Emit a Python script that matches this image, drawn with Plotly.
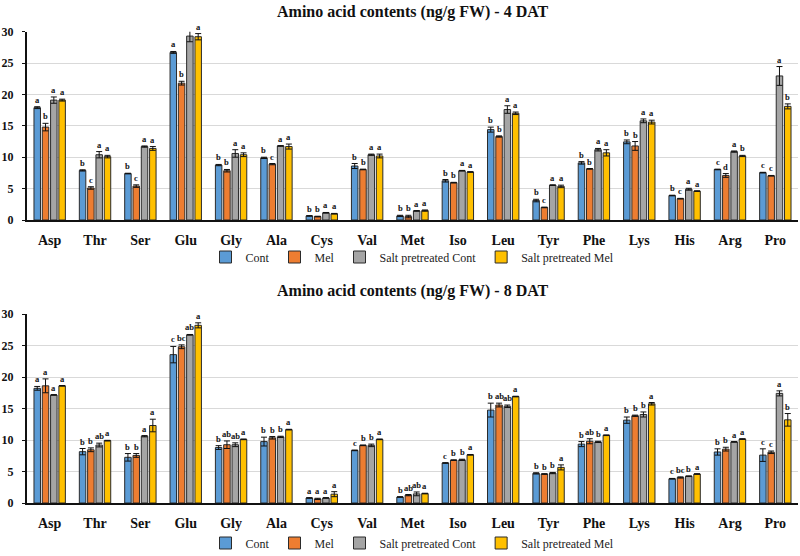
import plotly.graph_objects as go

amino = ["Asp", "Thr", "Ser", "Glu", "Gly", "Ala", "Cys", "Val", "Met",
         "Iso", "Leu", "Tyr", "Phe", "Lys", "His", "Arg", "Pro"]
series_names = ["Cont", "Mel", "Salt pretreated Cont", "Salt pretreated Mel"]
colors = ["#5B9BD5", "#ED7D31", "#A5A5A5", "#FFC000"]

# ---- 4 DAT ----
cont4 = [17.9, 7.9, 7.4, 26.7, 8.75, 9.9, 0.65, 8.6, 0.65, 6.25, 14.4, 3.1, 9.1, 12.45, 3.9, 8.05, 7.55]
mel4 = [14.8, 5.1, 5.4, 21.8, 7.85, 8.9, 0.55, 8.05, 0.55, 5.95, 13.3, 2.0, 8.15, 11.8, 3.4, 7.1, 7.05]
spc4 = [19.1, 10.4, 11.7, 29.3, 10.6, 11.8, 1.15, 10.4, 1.45, 7.85, 17.6, 5.55, 11.2, 15.8, 4.9, 10.9, 22.95]
spm4 = [19.1, 10.1, 11.4, 29.2, 10.4, 11.7, 1.0, 10.2, 1.5, 7.65, 17.0, 5.35, 10.7, 15.6, 4.6, 10.2, 18.1]

cont4_err = [0.15, 0.1, 0.05, 0.15, 0.1, 0.1, 0.05, 0.4, 0.1, 0.2, 0.4, 0.2, 0.2, 0.3, 0.05, 0.05, 0.05]
mel4_err = [0.6, 0.2, 0.2, 0.3, 0.2, 0.1, 0.05, 0.05, 0.2, 0.05, 0.1, 0.05, 0.05, 0.7, 0.05, 0.3, 0.05]
spc4_err = [0.5, 0.5, 0.1, 0.9, 0.6, 0.05, 0.05, 0.1, 0.05, 0.05, 0.6, 0.05, 0.2, 0.3, 0.15, 0.1, 1.5]
spm4_err = [0.15, 0.2, 0.3, 0.5, 0.3, 0.4, 0.05, 0.3, 0.1, 0.05, 0.2, 0.2, 0.5, 0.3, 0.05, 0.1, 0.4]

cont4_let = ["a", "b", "b", "a", "b", "b", "b", "b", "b", "b", "b", "b", "b", "b", "b", "c", "c"]
mel4_let = ["b", "c", "c", "b", "b", "c", "b", "b", "b", "b", "b", "c", "b", "b", "c", "d", "c"]
spc4_let = ["a", "a", "a", "a", "a", "a", "a", "a", "a", "a", "a", "a", "a", "a", "a", "a", "a"]
spm4_let = ["a", "a", "a", "a", "a", "a", "a", "a", "a", "a", "a", "a", "a", "a", "a", "b", "b"]

# ---- 8 DAT ----
cont8 = [18.2, 8.15, 7.25, 23.55, 8.8, 9.75, 0.8, 8.35, 0.95, 6.35, 14.75, 4.7, 9.35, 13.15, 3.85, 8.1, 7.6]
mel8 = [18.6, 8.45, 7.55, 24.8, 9.25, 10.35, 0.65, 9.15, 1.25, 6.8, 15.55, 4.6, 9.8, 13.85, 4.05, 8.55, 8.05]
spc8 = [17.15, 9.2, 10.6, 26.7, 9.25, 10.5, 0.8, 9.15, 1.45, 6.85, 15.35, 4.75, 9.7, 14.05, 4.25, 9.7, 17.4]
spm8 = [18.6, 9.9, 12.3, 28.2, 10.1, 11.65, 1.4, 10.1, 1.5, 7.65, 16.9, 5.65, 10.75, 15.75, 4.6, 10.15, 13.2]

cont8_err = [0.3, 0.5, 0.6, 1.3, 0.3, 0.7, 0.05, 0.05, 0.05, 0.05, 1.1, 0.1, 0.4, 0.5, 0.05, 0.5, 1.0]
mel8_err = [1.1, 0.3, 0.3, 0.3, 0.6, 0.2, 0.1, 0.05, 0.1, 0.05, 0.3, 0.05, 0.4, 0.1, 0.1, 0.3, 0.2]
spc8_err = [0.05, 0.3, 0.1, 0.05, 0.3, 0.1, 0.05, 0.2, 0.3, 0.1, 0.2, 0.1, 0.1, 0.4, 0.05, 0.05, 0.4]
spm8_err = [0.05, 0.05, 1.0, 0.4, 0.05, 0.05, 0.4, 0.05, 0.05, 0.05, 0.05, 0.4, 0.05, 0.2, 0.05, 0.05, 1.0]

cont8_let = ["a", "b", "b", "c", "b", "b", "a", "c", "b", "c", "b", "b", "b", "b", "c", "b", "c"]
mel8_let = ["a", "b", "b", "bc", "ab", "b", "a", "b", "ab", "b", "ab", "b", "ab", "b", "bc", "b", "c"]
spc8_let = ["a", "ab", "a", "ab", "ab", "b", "a", "b", "ab", "b", "ab", "b", "b", "b", "b", "a", "a"]
spm8_let = ["a", "a", "a", "a", "a", "a", "a", "a", "a", "a", "a", "a", "a", "a", "a", "a", "b"]

yticks = [0, 5, 10, 15, 20, 25, 30]

FONT = "Liberation Serif, Times New Roman, serif"
H = 556.0
pitch = 0.183
bw = 0.143

panels = [
    dict(vals=[cont4, mel4, spc4, spm4], errs=[cont4_err, mel4_err, spc4_err, spm4_err],
         lets=[cont4_let, mel4_let, spc4_let, spm4_let], xa="x", ya="y", legend="legend"),
    dict(vals=[cont8, mel8, spc8, spm8], errs=[cont8_err, mel8_err, spc8_err, spm8_err],
         lets=[cont8_let, mel8_let, spc8_let, spm8_let], xa="x2", ya="y2", legend="legend2"),
]

fig = go.Figure()
annotations = []
for p in panels:
    for i in range(4):
        off = (i - 2) * pitch + (pitch - bw) / 2
        fig.add_trace(go.Bar(
            x=amino, y=p["vals"][i], name=series_names[i],
            width=bw, offset=off,
            marker=dict(color=colors[i], line=dict(color="#2b2b2b", width=1)),
            error_y=dict(type="data", array=p["errs"][i], color="#111111", thickness=1, width=3),
            xaxis=p["xa"], yaxis=p["ya"], legend=p["legend"],
            cliponaxis=False,
        ))
        for k in range(len(amino)):
            annotations.append(dict(
                x=k + (i - 1.5) * pitch, y=p["vals"][i][k] + p["errs"][i][k],
                xref=p["xa"], yref=p["ya"], text=p["lets"][i][k], showarrow=False,
                yanchor="bottom", yshift=0,
                font=dict(family=FONT, size=8.5, color="#111", weight="bold"),
            ))

annotations.append(dict(x=0.5, y=1 - 12 / H, xref="paper", yref="paper",
                        text="Amino acid contents (ng/g FW) - 4 DAT", showarrow=False,
                        font=dict(family=FONT, size=16, color="#111", weight="bold"),
                        yanchor="middle"))
annotations.append(dict(x=0.5, y=1 - 291 / H, xref="paper", yref="paper",
                        text="Amino acid contents (ng/g FW) - 8 DAT", showarrow=False,
                        font=dict(family=FONT, size=16, color="#111", weight="bold"),
                        yanchor="middle"))

xcommon = dict(type="category", showline=True, linecolor="#111", linewidth=2,
               ticks="", showgrid=False, ticklabelstandoff=6, automargin=False,
               tickfont=dict(family=FONT, size=14, color="#111", weight="bold"),
               range=[-0.5, 16.5])
ycommon = dict(range=[0, 30], tickvals=yticks, showline=True, linecolor="#111", linewidth=2,
               ticks="outside", ticklen=3, tickcolor="#111", gridcolor="#d9d9d9", gridwidth=1,
               zeroline=False, ticklabelstandoff=6, automargin=False,
               tickfont=dict(family=FONT, size=12, color="#111", weight="bold"))

legcommon = dict(orientation="h", xanchor="center", x=0.5, yanchor="middle",
                 font=dict(family=FONT, size=12, color="#222"), bgcolor="rgba(0,0,0,0)",
                 itemwidth=30, traceorder="normal")

fig.update_layout(
    width=800, height=556,
    margin=dict(l=27, r=2, t=0, b=0, autoexpand=False),
    paper_bgcolor="white", plot_bgcolor="white",
    barmode="overlay",
    showlegend=True,
    xaxis=dict(domain=[0, 1], anchor="y", **xcommon),
    yaxis=dict(domain=[1 - 220 / H, 1 - 31.7 / H], anchor="x", **ycommon),
    xaxis2=dict(domain=[0, 1], anchor="y2", **xcommon),
    yaxis2=dict(domain=[1 - 503 / H, 1 - 314 / H], anchor="x2", **ycommon),
    legend=dict(y=1 - 257 / H, **legcommon),
    legend2=dict(y=1 - 543 / H, **legcommon),
    annotations=annotations,
)

fig.write_html("out.html", config={"displayModeBar": False},
               post_script="document.body.style.margin='0';document.body.style.overflow='hidden';")
